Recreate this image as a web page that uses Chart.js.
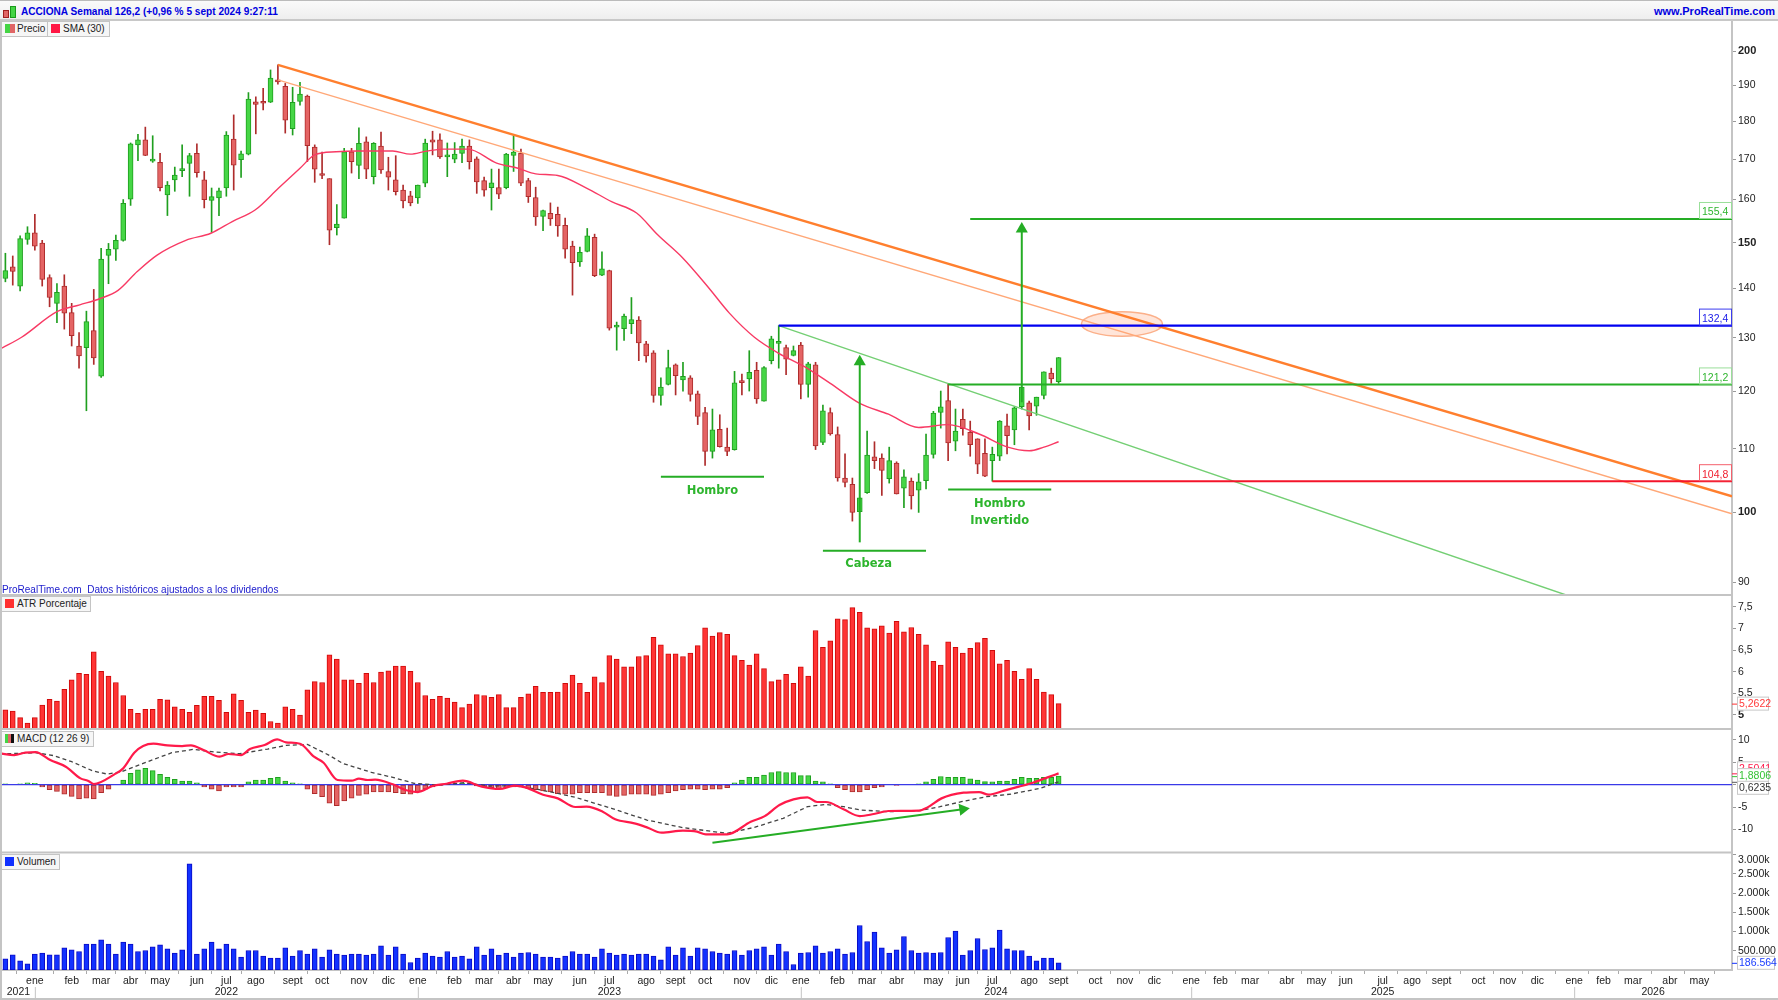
<!DOCTYPE html>
<html>
<head>
<meta charset="utf-8">
<title>ACCIONA Semanal</title>
<script src="https://cdn.jsdelivr.net/npm/chart.js@4/dist/chart.umd.js"></script>
<style>
  html, body { margin: 0; padding: 0; background: #fff; }
  body { width: 1778px; height: 1000px; position: relative; overflow: hidden; font: 10px "Liberation Sans", Arial, sans-serif; color: #222; }
  canvas { position: absolute; left: 0; top: 0; }
  #bar { position: absolute; left: 0; top: 0; width: 1778px; height: 21px; border-top: 1px solid #bbb; box-sizing: border-box;
         background: linear-gradient(#fafafa, #eee); border-bottom: 2px solid #c8c8c8; }
  #title { position: absolute; left: 21px; top: 5px; font: bold 10.1px "Liberation Sans", sans-serif; color: #0000e0; white-space: nowrap; }
  #site { position: absolute; right: 3px; top: 4px; font: bold 11px "Liberation Sans", sans-serif; color: #0000e0; white-space: nowrap; }
  .chip { position: absolute; height: 14px; background: #f6f6f6; border: 1px solid #c4c4c4; box-sizing: content-box; white-space: nowrap; line-height: 14px; }
  .chip b { position: absolute; top: 2px; height: 9px; }
  .chip span { position: absolute; top: 0; font-size: 10px; }
  .icon { position: absolute; border: 1px solid; }
  #note { position: absolute; left: 2px; top: 584px; color: #1a1acc; font-size: 10px; white-space: nowrap; }
</style>
</head>
<body>
<canvas id="chart" width="1778" height="1000"></canvas>
<div id="bar">
  <div class="icon" style="left:3px;top:9px;width:4px;height:6px;background:#e06666;border-color:#a02020"></div>
  <div class="icon" style="left:10px;top:5px;width:4px;height:10px;background:#44d444;border-color:#1a9a1a"></div>
  <div id="title">ACCIONA Semanal 126,2 (+0,96 % 5 sept 2024 9:27:11</div>
  <div id="site">www.ProRealTime.com</div>
</div>
<div class="chip" style="left:1px;top:21px;width:45px"><b style="left:3px;width:5px;background:#44d444"></b><b style="left:8px;width:5px;background:#e06666"></b><span style="left:15px">Precio</span></div>
<div class="chip" style="left:47px;top:21px;width:61px"><b style="left:3px;width:9px;background:#ff1744"></b><span style="left:15px">SMA (30)</span></div>
<div class="chip" style="left:1px;top:596px;width:88px"><b style="left:3px;width:9px;background:#ff3030"></b><span style="left:15px">ATR Porcentaje</span></div>
<div class="chip" style="left:1px;top:731px;width:91px"><b style="left:3px;width:3px;background:#44d444"></b><b style="left:6px;width:3px;background:#e06666"></b><b style="left:9px;width:3px;background:#111"></b><span style="left:15px">MACD (12 26 9)</span></div>
<div class="chip" style="left:1px;top:854px;width:57px"><b style="left:3px;width:9px;background:#1030ff"></b><span style="left:15px">Volumen</span></div>
<div id="note">ProRealTime.com&nbsp; Datos históricos ajustados a los dividendos</div>
<script>
// weekly bars, one entry per week
const opens = [142.1,144.6,140.5,150.7,152.2,149.9,142.3,136.9,140.5,135,
  128.4,128.1,131.4,122.7,147.1,148.5,150.5,160.1,173.7,175,
  169.5,169.2,161.1,164.8,167.1,168.9,171.5,164.8,159.8,160.4,
  162.8,175.2,169.9,171.3,185.3,185.2,185.2,191.5,189.7,178,
  185.4,186.9,173.1,166.2,165.1,153.4,155.6,171.9,168.4,174.5,
  165.6,173.4,166.9,164.8,162.3,160.9,160.4,164,175,175,
  170.6,170,171.5,173.4,170.1,164.6,162.9,162.9,162.9,171,
  171.5,164.6,160.5,156,156.7,156.5,153.9,149.2,145.7,148,
  151.2,142.8,143.8,132.1,131.8,132.8,133.5,128.8,127.1,119.2,
  121.2,124.8,122,122.4,119.5,116.2,109.6,113.3,110.3,109.9,
  121.9,122.2,123.8,118.2,125.6,128.9,128.1,126.6,128.6,121.2,
  124.8,111.1,116.2,112.4,105.3,104.3,100.1,103,108.7,108.5,
  105.2,107.7,103.7,104.8,103.4,104.9,109.1,116.2,118.3,111.3,
  115,112.8,111.7,109.3,108.1,108.8,113.9,113.2,117.2,117.9,
  117.3,119.2,123.3,121.7];
const closes = [143.8,143.6,150.9,152.2,149.2,141.9,138.1,139.2,134.9,130.4,
  126.5,133.2,126.1,146.3,148.5,150.5,159.1,174,175,171,
  170,162.9,163.5,166,167.2,170.9,166.6,160,160.7,162.1,
  176.3,168.5,171.4,186.1,184.6,184.9,192,190.9,180.3,185.2,
  187.5,173.5,167.5,165.9,152.8,154.2,171.9,169.4,174.1,167.5,
  174.1,167.3,165.5,161.9,159.7,159.2,163.5,174.2,174.4,170.6,
  170.8,171.3,173.4,169.4,164.3,162.3,164.1,161.3,171.3,171.8,
  164,160.7,155.9,157.4,155.4,153.8,148.5,145.5,147.8,151.5,
  142.7,144.2,131.9,132.3,134.3,133.6,129,126.5,119.2,120.7,
  124.3,122.8,122.7,119.4,115.5,109.6,113.2,110.4,109.6,121.5,
  121.5,123.4,118.6,124.3,129.8,129.2,125.9,127.5,121.2,125,
  110.5,116.5,112.5,105.3,104.6,100,102.2,109,108.1,106.5,
  108.1,102.8,105.5,102.5,104.7,109,116.1,117.2,111,113,
  113.4,110.7,107.5,105.6,109.1,114.7,112.2,117,120.7,115.6,
  118.9,123.5,122.2,126.2];
const highs = [147.6,147,151.5,153.6,156.5,150.5,142.9,141,142.9,136.9,
  131,135.3,139.8,148.7,149.8,151.7,160,174.2,176.5,178.4,
  176.1,171.5,164.4,168,173.7,171.5,174,166.9,162.8,162.8,
  177.2,181.7,172.1,187.9,186.7,189.1,194.4,195.9,190.5,189.4,
  190.8,187.2,173.7,171.8,165.1,158.8,172.8,172.8,178.2,175.8,
  174.3,177.1,170.5,170.9,163.5,162,163.5,175.2,177.3,176.6,
  174.2,174.3,175.2,175,170.6,165.5,167.5,167.5,171.5,176.1,
  172.6,165.2,163,157.5,159.2,158.2,155.6,150.3,149,153.2,
  151.9,147.9,143.9,133.1,134.7,138.1,134.2,129.3,127.5,122.4,
  127.6,125,125.3,122.8,120,117.1,116.8,115.8,113.5,123.6,
  123.1,127.5,125.3,124.5,130.3,132.4,128.6,128.4,129.1,125.3,
  125.3,117.5,117,113.7,109.2,105.3,102.2,113,111.2,109.2,
  110.3,107.9,106.6,105.3,106,112.5,116.4,120,121.2,116.8,
  116.8,114.7,111.7,111.7,110.3,114.8,115.9,117.2,120.7,118.2,
  118.9,123.5,124.2,126.2];
const lows = [141.4,140.7,139.5,149.6,148.3,140.5,136.2,133,131.7,128.4,
  124.2,116.5,124.9,122.5,141,146,150.3,158.6,169.6,170.9,
  169.2,162.1,156.2,162,165.6,160.8,165.5,158,152.3,156.2,
  160.8,162.3,165.4,171.1,176.6,183.1,185.1,190.3,176.8,176.3,
  184.4,169.4,164.2,165.1,149.5,151.7,155.6,166.5,165.1,165.1,
  163.8,166.4,162.3,161.1,158,158.5,159.1,163.1,171.1,170.2,
  165.6,169.1,169.1,167.5,161.5,160.8,157.5,160.2,162.6,166.9,
  163.4,159.3,153.9,152.7,153.9,151.4,146.5,138.6,144.7,147.9,
  142.5,142.7,131.5,127.6,129.5,130.8,125.6,125.3,118,117.5,
  121.1,119.3,120,118.2,114.1,107.3,108.5,110.3,108.9,109.8,
  119.3,120,117.8,118.2,125,124.2,123,126.5,118.6,118.9,
  109.9,110.7,112.3,104.8,103.9,98.7,100.1,102.9,106.8,102.6,
  104.5,102.8,100.7,100.5,100,103.6,108.5,113.5,108.1,109.7,
  112.3,108.8,106,105.5,104.8,108.1,109.2,110.7,116.8,113.2,
  115.7,118.6,121.4,121.4];

const smaWeeks = [-0.5,2.2,7,10.1,12.9,15.3,17.9,20.6,24.5,27.9,30.8,33.9,37.1,40,42,44.9,47.8,52.6,55,57,59.4,62.8,66.7,69.6,72,75,78.9,82.3,85.7,88.6,92,95.4,98.3,101.7,105,108.5,112,116,119.9,124,128,132.2,136.1,139,141,143];
const smaValues = [128,130.1,135.2,136.6,137.9,139.6,143.6,147.2,150.5,152.1,154.8,157.5,162.8,167.7,171.1,171.9,172.1,172.1,171.3,172,172.6,172.6,169,167.7,166.3,165.9,162.8,159.5,156.8,151.7,146.5,140.3,134.9,130.1,127,124.5,121.4,117.8,115.9,113.6,114.1,112.5,110.3,109.7,110.3,111.2];

const atrValues = [5.12,5.09,4.94,4.81,4.94,5.23,5.36,5.32,5.59,5.81,
  5.96,5.94,6.46,6.01,5.9,5.75,5.45,5.13,5.04,5.13,
  5.13,5.36,5.35,5.19,5.13,5.06,5.22,5.43,5.43,5.34,
  5.06,5.49,5.34,5.06,5.11,5.04,4.85,4.81,5.19,5.13,
  5,5.58,5.77,5.75,6.39,6.29,5.81,5.81,5.73,5.96,
  5.75,5.99,6.02,6.13,6.13,6.01,5.75,5.45,5.36,5.43,
  5.39,5.3,5.17,5.25,5.47,5.45,5.41,5.47,5.17,5.17,
  5.41,5.49,5.66,5.52,5.52,5.53,5.73,5.92,5.73,5.52,
  5.88,5.75,6.37,6.29,6.11,6.11,6.35,6.37,6.79,6.62,
  6.41,6.41,6.35,6.43,6.6,7.01,6.82,6.9,6.86,6.37,
  6.26,6.15,6.41,6.07,5.77,5.81,5.94,5.73,6.11,5.9,
  6.95,6.56,6.71,7.22,7.2,7.48,7.37,7.01,6.99,7.06,
  6.89,7.16,6.92,7.02,6.86,6.62,6.24,6.15,6.69,6.56,
  6.43,6.54,6.67,6.77,6.49,6.18,6.26,6.01,5.82,6.07,
  5.82,5.53,5.47,5.2622];

const macdHist = [0.2,0,0.2,0.4,0.3,-0.5,-1.1,-1.5,-2.1,-2.6,
  -3.2,-3,-3.2,-1.8,-1,0,1,2.5,3.3,3.6,
  3.1,2.3,1.6,1.2,0.8,0.8,0.4,-0.5,-1,-1.4,
  -0.5,-0.5,-0.5,0.6,1,1,1.4,1.6,0.8,0.4,
  0.2,-1,-2,-2.7,-4.1,-4.7,-3.6,-3,-2.4,-2.1,
  -1.6,-1.6,-1.6,-1.8,-2,-2.1,-1.6,-1,-0.5,-0.2,
  0.2,0.2,0.4,0.2,-0.3,-0.5,-0.7,-0.9,-0.7,-0.5,
  -0.5,-0.9,-1.1,-1.4,-1.6,-2,-2.1,-2.1,-1.8,-1.8,
  -1.8,-1.8,-2.4,-2.6,-2.4,-2.1,-2.1,-2.1,-2.4,-2.1,
  -1.8,-1.4,-1.1,-1,-1,-1.1,-1,-1,-0.7,0.4,
  1,1.6,1.6,2.1,2.7,2.9,2.7,2.7,2,2,
  0.8,0.6,0.2,-0.7,-1.1,-1.6,-1.6,-1.1,-0.7,-0.5,
  0,-0.2,0,0,0.2,0.6,1.2,1.8,1.6,1.6,
  1.6,1.3,1,0.7,0.6,0.8,0.8,1.2,1.6,1.4,
  1.4,1.6,1.6,1.88];

const macdWeeks = [-0.7,1.2,2.7,4.1,6.1,8.2,10.2,11.2,12,14.8,16,17.5,18.7,20.1,22,24,25.2,26.9,29.1,30.3,32,33.2,35.2,36.9,38.1,40,41.9,43.2,45.1,47,48,49.2,50.2,52.6,54.3,56,58,59.9,62.1,64.7,67.1,69.1,70.6,73,75,77.4,78.9,81.1,82.8,85.4,87.1,89.1,92,93.9,95.1,98,101.2,103.1,105.1,107,108.9,110.2,111.4,113.8,116,117.9,119.9,124,125.2,127.1,130.1,132.2,133.5,135.6,137.6,139.5,141.5,143];
const macdValues = [6.94,6.57,7.09,7.24,5.46,3.98,1.39,0.87,0.13,2.28,3.61,7.09,8.57,9.09,8.72,8.57,8.72,7.68,6.2,6.8,6.57,7.9,8.8,10.06,9.39,9.09,6.2,4.87,1.02,0.87,1.31,1.02,1.09,0.06,-1.2,-1.65,-0.32,0.2,0.87,-0.46,-0.98,-0.24,-0.61,-2.24,-3.06,-4.98,-4.91,-6.02,-7.72,-8.61,-9.5,-10.69,-10.24,-10.46,-11.05,-11.05,-8.24,-7,-4.54,-3.28,-2.83,-3.87,-3.87,-5.5,-7,-6.54,-5.87,-5.8,-5.06,-3.06,-1.8,-1.65,-2.24,-1.35,-0.46,0.43,1.61,2.5];
const signalWeeks = [-0.7,4.1,6.6,9,11.9,13.8,15.8,18.7,22.6,25.5,28.4,31.8,35.6,38.1,41,43.9,45.8,49.7,52.6,55.5,58.9,62.3,65.7,69.1,72,75,77.4,82.3,87.1,92,98,101.7,105.6,108.9,111.4,113.8,116.2,119.9,124,126.9,129.8,133.2,136.6,140.5,143];
const signalValues = [6.8,7.09,6.43,5.09,3.02,2.35,2.87,4.72,7.09,7.83,7.24,6.87,7.9,8.72,8.94,6.57,4.72,2.72,1.61,0.28,-0.09,0.42,-0.32,-0.24,-0.98,-1.95,-2.83,-5.28,-7.87,-9.57,-10.83,-9.5,-7.5,-4.91,-4.39,-4.91,-5.65,-6.02,-5.8,-4.91,-3.8,-2.69,-2.09,-0.83,0.62];

// thousands of shares
const volumeValues = [290,394,238,160,411,437,394,394,576,524,
  481,671,671,784,671,411,723,671,481,507,
  602,654,550,437,524,2758,411,550,723,550,
  671,550,333,507,507,359,307,307,576,359,
  507,411,550,333,524,411,385,411,411,385,
  411,628,385,602,411,195,307,437,359,333,
  481,333,359,290,602,385,550,385,437,333,
  437,455,411,333,333,307,359,481,411,411,
  333,550,437,385,411,385,411,411,359,264,
  602,385,576,359,576,550,481,437,411,507,
  385,507,550,602,385,671,481,143,437,455,
  628,437,481,550,411,455,1156,740,983,576,
  437,524,870,507,437,455,437,455,844,1009,
  385,507,818,533,576,1035,550,507,507,359,
  238,307,307,186.564];

const monthWeeks = [4,9,13,17,21,26,30,34,39,43,48,52,56,61,65,69,73,78,82,87,91,95,100,104,108,113,117,121,126,130,134,139,143,148,152,156,161,165,169,174,178,182,187,191,195,200,204,208,213,217,221,226,230,234];
const monthLabels = ["ene","feb","mar","abr","may","jun","jul","ago","sept","oct","nov","dic","ene","feb","mar","abr","may","jun","jul","ago","sept","oct","nov","dic","ene","feb","mar","abr","may","jun","jul","ago","sept","oct","nov","dic","ene","feb","mar","abr","may","jun","jul","ago","sept","oct","nov","dic","ene","feb","mar","abr","may",""];
const yearLabels = ["2021","2022","2023","2024","2025","2026"];
const yearStartWeeks = [4,56,108,161,213];

const priceTicks = [90,100,110,120,130,140,150,160,170,180,190,200];
const priceBoldTicks = [100,150,200];
const atrTicks = [5,5.5,6,6.5,7,7.5];
const macdTicks = [-10,-5,0,5,10];
const volumeTicks = [500,1000,1500,2000,2500,3000];
const volumeTickLabels = ["500.000","1.000k","1.500k","2.000k","2.500k",""];

const weeks = opens.map((v, i) => i);
const xMin = -0.46, xMax = 234.43;
const upFill = "#46d646", upEdge = "#1f9f1f", downFill = "#e46464", downEdge = "#ae2c2c";
const green = "#25ad25", orange = "#ff7f2e", orangeThin = "#ffa878", greenThin = "#74cf74";

function isUp(i) { return closes[i] >= opens[i]; }

function priceLine(label, points, color, width, order) {
  return { type: "line", label, yAxisID: "yPrice", data: points, borderColor: color, borderWidth: width,
    pointRadius: 0, tension: 0, order };
}

function arrow(label, points, yAxisID, rotation) {
  return { type: "line", label, yAxisID, data: points, borderColor: green, borderWidth: 2, tension: 0, order: 1,
    pointStyle: "triangle", pointRadius: [0, 7], pointRotation: [0, rotation],
    pointBackgroundColor: green, pointBorderColor: green, pointBorderWidth: 0 };
}

const datasets = [
  // candles: thin bar low-high, wide bar open-close
  { type: "bar", label: "mecha", yAxisID: "yPrice", grouped: false, barThickness: 1, order: 21,
    data: weeks.map(i => ({ x: i, y: [lows[i], highs[i]] })),
    backgroundColor: weeks.map(i => isUp(i) ? upEdge : downEdge) },
  { type: "bar", label: "Precio", yAxisID: "yPrice", grouped: false, barThickness: 5, order: 20, minBarLength: 2,
    data: weeks.map(i => ({ x: i, y: [opens[i], closes[i]] })),
    backgroundColor: weeks.map(i => isUp(i) ? upFill : downFill),
    borderColor: weeks.map(i => isUp(i) ? upEdge : downEdge), borderWidth: 1, borderSkipped: false },
  { type: "line", label: "SMA (30)", yAxisID: "yPrice", order: 5,
    data: smaWeeks.map((w, i) => ({ x: w, y: smaValues[i] })),
    borderColor: "#f83a64", borderWidth: 1.4, pointRadius: 0, cubicInterpolationMode: "monotone" },
  priceLine("techo", [{ x: 37, y: 195.9 }, { x: xMax, y: 102.45 }], orange, 2.4, 4),
  priceLine("techo 2", [{ x: 37, y: 191.5 }, { x: xMax, y: 99.8 }], orangeThin, 1.4, 4),
  priceLine("clavicular", [{ x: 105, y: 132.4 }, { x: 212, y: 88.3 }], greenThin, 1.4, 4),
  priceLine("132,4", [{ x: 105, y: 132.4 }, { x: xMax, y: 132.4 }], "#0000f0", 2.4, 3),
  priceLine("155,4", [{ x: 131, y: 155.4 }, { x: xMax, y: 155.4 }], green, 2, 3),
  priceLine("121,2", [{ x: 128, y: 121.2 }, { x: xMax, y: 121.2 }], green, 2, 3),
  priceLine("104,8", [{ x: 134, y: 104.8 }, { x: xMax, y: 104.8 }], "#f4142a", 2, 3),
  priceLine("hombro", [{ x: 89, y: 105.5 }, { x: 103, y: 105.5 }], green, 2, 3),
  priceLine("cabeza", [{ x: 111, y: 94.4 }, { x: 125, y: 94.4 }], green, 2, 3),
  priceLine("hombro inv", [{ x: 128, y: 103.5 }, { x: 142, y: 103.5 }], green, 2, 3),
  arrow("objetivo 1", [{ x: 116, y: 95.6 }, { x: 116, y: 125.4 }], "yPrice", 0),
  arrow("objetivo 2", [{ x: 138, y: 118 }, { x: 138, y: 153.1 }], "yPrice", 0),

  { type: "bar", label: "ATR Porcentaje", yAxisID: "yAtr", grouped: false, barThickness: 5, order: 10,
    data: weeks.map(i => ({ x: i, y: atrValues[i] })),
    backgroundColor: "#ff3434", borderColor: "#cf0a0a", borderWidth: 1, borderSkipped: false },

  { type: "bar", label: "histograma", yAxisID: "yMacd", grouped: false, barThickness: 5, order: 10,
    data: weeks.map(i => ({ x: i, y: macdHist[i] })),
    backgroundColor: macdHist.map(v => v >= 0 ? upFill : downFill),
    borderColor: macdHist.map(v => v >= 0 ? upEdge : downEdge), borderWidth: 1, borderSkipped: false },
  { type: "line", label: "cero", yAxisID: "yMacd", order: 8, data: [{ x: xMin, y: 0 }, { x: xMax, y: 0 }],
    borderColor: "#3a3ae8", borderWidth: 1.4, pointRadius: 0 },
  { type: "line", label: "señal", yAxisID: "yMacd", order: 7,
    data: signalWeeks.map((w, i) => ({ x: w, y: signalValues[i] })),
    borderColor: "#444", borderWidth: 1.3, borderDash: [4, 3], pointRadius: 0, tension: 0 },
  { type: "line", label: "MACD (12 26 9)", yAxisID: "yMacd", order: 6,
    data: macdWeeks.map((w, i) => ({ x: w, y: macdValues[i] })),
    borderColor: "#ff1a4a", borderWidth: 2.2, pointRadius: 0, cubicInterpolationMode: "monotone" },
  arrow("divergencia", [{ x: 96, y: -12.9 }, { x: 130, y: -5.47 }], "yMacd", 82),

  { type: "bar", label: "Volumen", yAxisID: "yVol", grouped: false, barThickness: 5, order: 10,
    data: weeks.map(i => ({ x: i, y: volumeValues[i] })),
    backgroundColor: "#1232ff", borderColor: "#0a0ac4", borderWidth: 1, borderSkipped: false }
];

function panelAxis(weight, min, max, values, label, bold) {
  return {
    type: "linear", position: "right", stack: "panels", stackWeight: weight, min, max,
    afterFit(scale) { scale.width = 46; },
    afterBuildTicks(scale) { scale.ticks = values.map(value => ({ value })); },
    border: { color: "#c4c4c4", width: 2 },
    grid: { drawOnChartArea: false, tickLength: 4, tickColor: "#999" },
    ticks: {
      autoSkip: false, padding: 2, color: "#222", callback: label,
      font: ctx => (bold && ctx.tick && bold.includes(ctx.tick.value))
        ? { family: "Liberation Sans", size: 11, weight: "bold" }
        : { family: "Liberation Sans", size: 10.5 }
    }
  };
}

const comma = v => String(v).replace(".", ",");

// right hand value flags and the labels drawn on the panels
const flags = [
  { text: "155,4", value: 155.4, color: "#2fb52f", edge: "#9adf9a" },
  { text: "132,4", value: 132.4, color: "#2020e8", edge: "#3c3cf0" },
  { text: "121,2", value: 121.2, color: "#2fb52f", edge: "#9adf9a" },
  { text: "104,8", value: 104.8, color: "#f01c2c", edge: "#f4606c" }
];
const patternLabels = [
  { text: "Hombro", week: 96, value: 103.2 },
  { text: "Cabeza", week: 117.2, value: 92.6 },
  { text: "Hombro", week: 135, value: 101.3 },
  { text: "Invertido", week: 135, value: 98.7 }
];
const ellipseBox = { weekFrom: 146.1, weekTo: 157.1, valueFrom: 130.3, valueTo: 135.2 };

function valueBox(ctx, text, x, cy, w, color) {
  ctx.fillStyle = "#fff";
  ctx.strokeStyle = "#c8c8c8";
  ctx.lineWidth = 1;
  ctx.fillRect(x, cy - 7, w, 14);
  ctx.strokeRect(x + 0.5, cy - 6.5, w - 1, 13);
  ctx.fillStyle = color;
  ctx.textAlign = "left";
  ctx.textBaseline = "middle";
  ctx.font = '10.5px "Liberation Sans"';
  ctx.fillText(text, x + 2, cy + 0.5);
}

const overlays = {
  id: "overlays",
  beforeDatasetsDraw(chart) {
    const { ctx, scales } = chart;
    const cx = (scales.x.getPixelForValue(ellipseBox.weekFrom) + scales.x.getPixelForValue(ellipseBox.weekTo)) / 2;
    const rx = (scales.x.getPixelForValue(ellipseBox.weekTo) - scales.x.getPixelForValue(ellipseBox.weekFrom)) / 2;
    const top = scales.yPrice.getPixelForValue(ellipseBox.valueTo);
    const bottom = scales.yPrice.getPixelForValue(ellipseBox.valueFrom);
    ctx.save();
    ctx.beginPath();
    ctx.ellipse(cx, (top + bottom) / 2, rx, (bottom - top) / 2, 0, 0, Math.PI * 2);
    ctx.fillStyle = "rgba(255,170,130,0.3)";
    ctx.fill();
    ctx.strokeStyle = "#fbb08a";
    ctx.lineWidth = 1.5;
    ctx.stroke();
    ctx.restore();
  },
  afterDraw(chart) {
    const { ctx, scales } = chart;
    const { x, yPrice, yAtr, yMacd, yVol } = scales;
    const right = x.right;
    ctx.save();

    // panel separators and frame
    ctx.strokeStyle = "#c4c4c4";
    ctx.lineWidth = 2;
    [yAtr.top, yMacd.top, yVol.top].forEach(y => {
      ctx.beginPath(); ctx.moveTo(0, y); ctx.lineTo(right, y); ctx.stroke();
    });
    ctx.beginPath();
    ctx.moveTo(1, 19); ctx.lineTo(1, 999); ctx.lineTo(1778, 999);
    ctx.stroke();

    // price flags
    ctx.font = '10.5px "Liberation Sans"';
    ctx.textBaseline = "middle";
    ctx.textAlign = "left";
    flags.forEach(f => {
      const y = yPrice.getPixelForValue(f.value);
      ctx.fillStyle = "#fff";
      ctx.fillRect(right - 33, y - 17, 32, 16);
      ctx.strokeStyle = f.edge;
      ctx.lineWidth = 1;
      ctx.strokeRect(right - 32.5, y - 16.5, 32, 16);
      ctx.fillStyle = f.color;
      ctx.fillText(f.text, right - 30, y - 6.5);
    });

    // head and shoulders captions
    ctx.font = 'bold 11.5px "DejaVu Sans"';
    ctx.textAlign = "center";
    ctx.fillStyle = "#2db52d";
    patternLabels.forEach(l => ctx.fillText(l.text, x.getPixelForValue(l.week), yPrice.getPixelForValue(l.value)));

    // current value boxes on the right scale
    const tickTo = (y, color) => {
      ctx.strokeStyle = color; ctx.lineWidth = 1;
      ctx.beginPath(); ctx.moveTo(right, y + 0.5); ctx.lineTo(right + 5, y + 0.5); ctx.stroke();
    };
    tickTo(yAtr.getPixelForValue(5.2622), "#ff3030");
    valueBox(ctx, "5,2622", right + 5, yAtr.getPixelForValue(5.2622), 32, "#ff3a3a");
    tickTo(yMacd.getPixelForValue(2.5041), "#ff1a4a");
    tickTo(yMacd.getPixelForValue(1.8806), "#35c235");
    valueBox(ctx, "2,5041", right + 5, yMacd.getPixelForValue(2.5041) - 5, 32, "#ff1a4a");
    valueBox(ctx, "1,8806", right + 5, yMacd.getPixelForValue(1.8806) - 1, 32, "#35c235");
    tickTo(yMacd.getPixelForValue(0.6235), "#555");
    valueBox(ctx, "0,6235", right + 5, yMacd.getPixelForValue(0.6235) + 6, 32, "#333");
    tickTo(yVol.getPixelForValue(186.564), "#1232ff");
    valueBox(ctx, "186.564", right + 5, yVol.getPixelForValue(186.564), 38, "#1a3cff");

    // top volume label sits under the panel edge
    ctx.fillStyle = "#222";
    ctx.textAlign = "left";
    ctx.font = '10.5px "Liberation Sans"';
    ctx.fillText("3.000k", right + 6, yVol.top + 8);

    // years row
    const starts = yearStartWeeks.map(w => x.getPixelForValue(w));
    const edges = [x.left].concat(starts, [right]);
    ctx.strokeStyle = "#c4c4c4";
    ctx.lineWidth = 1;
    starts.forEach(p => {
      ctx.beginPath(); ctx.moveTo(p + 0.5, 987); ctx.lineTo(p + 0.5, 999); ctx.stroke();
    });
    ctx.fillStyle = "#222";
    ctx.textAlign = "center";
    yearLabels.forEach((t, i) => ctx.fillText(t, (edges[i] + edges[i + 1]) / 2, 992));
    ctx.restore();
  }
};

new Chart(document.getElementById("chart"), {
  type: "bar",
  data: { datasets },
  plugins: [overlays],
  options: {
    responsive: false,
    animation: false,
    devicePixelRatio: 1,
    layout: { autoPadding: false, padding: { top: 19, left: 2, right: 0, bottom: 0 } },
    plugins: { legend: { display: false }, tooltip: { enabled: false }, title: { display: false } },
    scales: {
      x: {
        type: "linear", min: xMin, max: xMax, offset: false,
        afterFit(scale) { scale.height = 30; },
        afterBuildTicks(scale) { scale.ticks = monthWeeks.map(value => ({ value })); },
        border: { color: "#c4c4c4", width: 2 },
        grid: { drawOnChartArea: false, tickLength: 4, tickColor: "#aaa" },
        ticks: {
          autoSkip: false, maxRotation: 0, padding: 1, color: "#222",
          font: { family: "Liberation Sans", size: 10.5 },
          callback: (value, index) => monthLabels[index]
        }
      },
      yPrice: Object.assign(panelAxis(576, 88.33, 209.86, priceTicks, v => String(v), priceBoldTicks), { type: "logarithmic" }),
      yAtr: panelAxis(134, 4.676, 7.77, atrTicks, comma, [5]),
      yMacd: panelAxis(123.5, -15.09, 12.36, macdTicks, v => String(v)),
      yVol: panelAxis(117.5, 0, 3052, volumeTicks, (v, i) => volumeTickLabels[i])
    }
  }
});
</script>
</body>
</html>
